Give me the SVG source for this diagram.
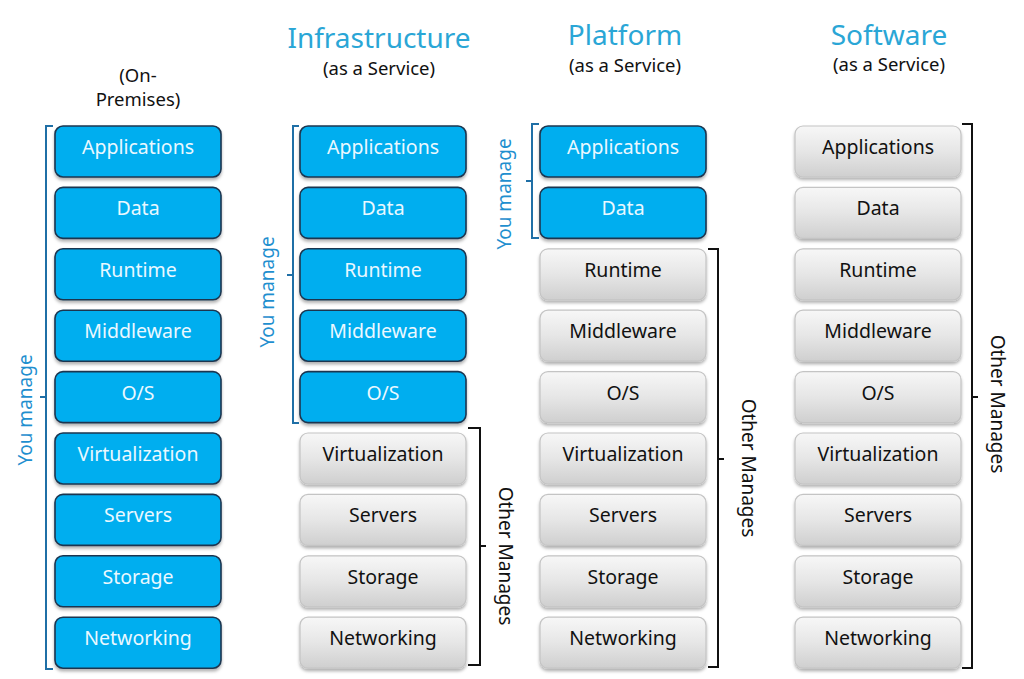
<svg xmlns="http://www.w3.org/2000/svg" width="1024" height="679" viewBox="0 0 1024 679">
<defs>
<linearGradient id="gray" x1="0" y1="0" x2="0" y2="1">
<stop offset="0" stop-color="#f7f7f7"/>
<stop offset="0.5" stop-color="#e6e6e6"/>
<stop offset="1" stop-color="#cfcfcf"/>
</linearGradient>
<filter id="sh" x="-10%" y="-10%" width="120%" height="140%">
<feDropShadow dx="0" dy="2.5" stdDeviation="1.8" flood-color="#000" flood-opacity="0.3"/>
</filter>
</defs>
<style>
.b rect{fill:#00aeef;stroke:#1c3650;stroke-width:1.6;filter:url(#sh)}
.b text{fill:#eaf8ff}
.g rect{fill:url(#gray);stroke:#c4c4c4;stroke-width:1.2;filter:url(#sh)}
.g text{fill:#111}
text{font-family:"Noto Sans","Open Sans","DejaVu Sans",sans-serif}
.lbl{font-size:19.5px;text-anchor:middle}
.hd{font-size:28px;fill:#2aa6d6;text-anchor:middle}
.sub{font-size:18.5px;fill:#111;text-anchor:middle}
.bl{fill:none;stroke:#1f6fa6;stroke-width:2}
.bk{fill:none;stroke:#111;stroke-width:2}
.ym{font-size:19px;fill:#1f8fcf;text-anchor:middle}
.om{font-size:19px;fill:#111;text-anchor:middle}
</style>
<rect width="1024" height="679" fill="#fff"/>

<g id="headers">
<text class="sub" x="138" y="82">(On-</text>
<text class="sub" x="138" y="106">Premises)</text>
<text class="hd" x="379" y="48">Infrastructure</text>
<text class="sub" x="379" y="75">(as a Service)</text>
<text class="hd" x="625" y="45">Platform</text>
<text class="sub" x="625" y="72">(as a Service)</text>
<text class="hd" x="889" y="45">Software</text>
<text class="sub" x="889" y="71">(as a Service)</text>
</g>

<g id="col-onprem">
<g id="op-app" class="b"><rect x="55" y="126" width="166" height="51" rx="8"/><text class="lbl" x="138" y="154">Applications</text></g>
<g id="op-data" class="b"><rect x="55" y="187.4" width="166" height="51" rx="8"/><text class="lbl" x="138" y="215.4">Data</text></g>
<g id="op-run" class="b"><rect x="55" y="248.8" width="166" height="51" rx="8"/><text class="lbl" x="138" y="276.8">Runtime</text></g>
<g id="op-mid" class="b"><rect x="55" y="310.2" width="166" height="51" rx="8"/><text class="lbl" x="138" y="338.2">Middleware</text></g>
<g id="op-os" class="b"><rect x="55" y="371.6" width="166" height="51" rx="8"/><text class="lbl" x="138" y="399.6">O/S</text></g>
<g id="op-virt" class="b"><rect x="55" y="433" width="166" height="51" rx="8"/><text class="lbl" x="138" y="461">Virtualization</text></g>
<g id="op-srv" class="b"><rect x="55" y="494.4" width="166" height="51" rx="8"/><text class="lbl" x="138" y="522.4">Servers</text></g>
<g id="op-sto" class="b"><rect x="55" y="555.8" width="166" height="51" rx="8"/><text class="lbl" x="138" y="583.8">Storage</text></g>
<g id="op-net" class="b"><rect x="55" y="617.2" width="166" height="51" rx="8"/><text class="lbl" x="138" y="645.2">Networking</text></g>
</g>

<g id="col-iaas">
<g id="ia-app" class="b"><rect x="300" y="126" width="166" height="51" rx="8"/><text class="lbl" x="383" y="154">Applications</text></g>
<g id="ia-data" class="b"><rect x="300" y="187.4" width="166" height="51" rx="8"/><text class="lbl" x="383" y="215.4">Data</text></g>
<g id="ia-run" class="b"><rect x="300" y="248.8" width="166" height="51" rx="8"/><text class="lbl" x="383" y="276.8">Runtime</text></g>
<g id="ia-mid" class="b"><rect x="300" y="310.2" width="166" height="51" rx="8"/><text class="lbl" x="383" y="338.2">Middleware</text></g>
<g id="ia-os" class="b"><rect x="300" y="371.6" width="166" height="51" rx="8"/><text class="lbl" x="383" y="399.6">O/S</text></g>
<g id="ia-virt" class="g"><rect x="300" y="433" width="166" height="51" rx="8"/><text class="lbl" x="383" y="461">Virtualization</text></g>
<g id="ia-srv" class="g"><rect x="300" y="494.4" width="166" height="51" rx="8"/><text class="lbl" x="383" y="522.4">Servers</text></g>
<g id="ia-sto" class="g"><rect x="300" y="555.8" width="166" height="51" rx="8"/><text class="lbl" x="383" y="583.8">Storage</text></g>
<g id="ia-net" class="g"><rect x="300" y="617.2" width="166" height="51" rx="8"/><text class="lbl" x="383" y="645.2">Networking</text></g>
</g>

<g id="col-paas">
<g id="pa-app" class="b"><rect x="540" y="126" width="166" height="51" rx="8"/><text class="lbl" x="623" y="154">Applications</text></g>
<g id="pa-data" class="b"><rect x="540" y="187.4" width="166" height="51" rx="8"/><text class="lbl" x="623" y="215.4">Data</text></g>
<g id="pa-run" class="g"><rect x="540" y="248.8" width="166" height="51" rx="8"/><text class="lbl" x="623" y="276.8">Runtime</text></g>
<g id="pa-mid" class="g"><rect x="540" y="310.2" width="166" height="51" rx="8"/><text class="lbl" x="623" y="338.2">Middleware</text></g>
<g id="pa-os" class="g"><rect x="540" y="371.6" width="166" height="51" rx="8"/><text class="lbl" x="623" y="399.6">O/S</text></g>
<g id="pa-virt" class="g"><rect x="540" y="433" width="166" height="51" rx="8"/><text class="lbl" x="623" y="461">Virtualization</text></g>
<g id="pa-srv" class="g"><rect x="540" y="494.4" width="166" height="51" rx="8"/><text class="lbl" x="623" y="522.4">Servers</text></g>
<g id="pa-sto" class="g"><rect x="540" y="555.8" width="166" height="51" rx="8"/><text class="lbl" x="623" y="583.8">Storage</text></g>
<g id="pa-net" class="g"><rect x="540" y="617.2" width="166" height="51" rx="8"/><text class="lbl" x="623" y="645.2">Networking</text></g>
</g>

<g id="col-saas">
<g id="sa-app" class="g"><rect x="795" y="126" width="166" height="51" rx="8"/><text class="lbl" x="878" y="154">Applications</text></g>
<g id="sa-data" class="g"><rect x="795" y="187.4" width="166" height="51" rx="8"/><text class="lbl" x="878" y="215.4">Data</text></g>
<g id="sa-run" class="g"><rect x="795" y="248.8" width="166" height="51" rx="8"/><text class="lbl" x="878" y="276.8">Runtime</text></g>
<g id="sa-mid" class="g"><rect x="795" y="310.2" width="166" height="51" rx="8"/><text class="lbl" x="878" y="338.2">Middleware</text></g>
<g id="sa-os" class="g"><rect x="795" y="371.6" width="166" height="51" rx="8"/><text class="lbl" x="878" y="399.6">O/S</text></g>
<g id="sa-virt" class="g"><rect x="795" y="433" width="166" height="51" rx="8"/><text class="lbl" x="878" y="461">Virtualization</text></g>
<g id="sa-srv" class="g"><rect x="795" y="494.4" width="166" height="51" rx="8"/><text class="lbl" x="878" y="522.4">Servers</text></g>
<g id="sa-sto" class="g"><rect x="795" y="555.8" width="166" height="51" rx="8"/><text class="lbl" x="878" y="583.8">Storage</text></g>
<g id="sa-net" class="g"><rect x="795" y="617.2" width="166" height="51" rx="8"/><text class="lbl" x="878" y="645.2">Networking</text></g>
</g>

<g id="brackets">
<path class="bl" d="M53 126 H46 V669 H53 M46 397 H40"/>
<text class="ym" transform="translate(32 410) rotate(-90)">You manage</text>
<path class="bl" d="M299 126 H293 V423 H299 M293 275 H287"/>
<text class="ym" transform="translate(274 292) rotate(-90)">You manage</text>
<path class="bk" d="M468 428 H480 V665 H468 M480 546 H486"/>
<text class="om" transform="translate(499 556) rotate(90)">Other Manages</text>
<path class="bl" d="M539 124 H532 V238 H539 M532 181 H526"/>
<text class="ym" transform="translate(511 194) rotate(-90)">You manage</text>
<path class="bk" d="M708 249 H718 V667 H708 M718 459 H724"/>
<text class="om" transform="translate(742 468) rotate(90)">Other Manages</text>
<path class="bk" d="M962 124 H972 V668 H962 M972 397 H978"/>
<text class="om" transform="translate(991 404) rotate(90)">Other Manages</text>
</g>
</svg>
